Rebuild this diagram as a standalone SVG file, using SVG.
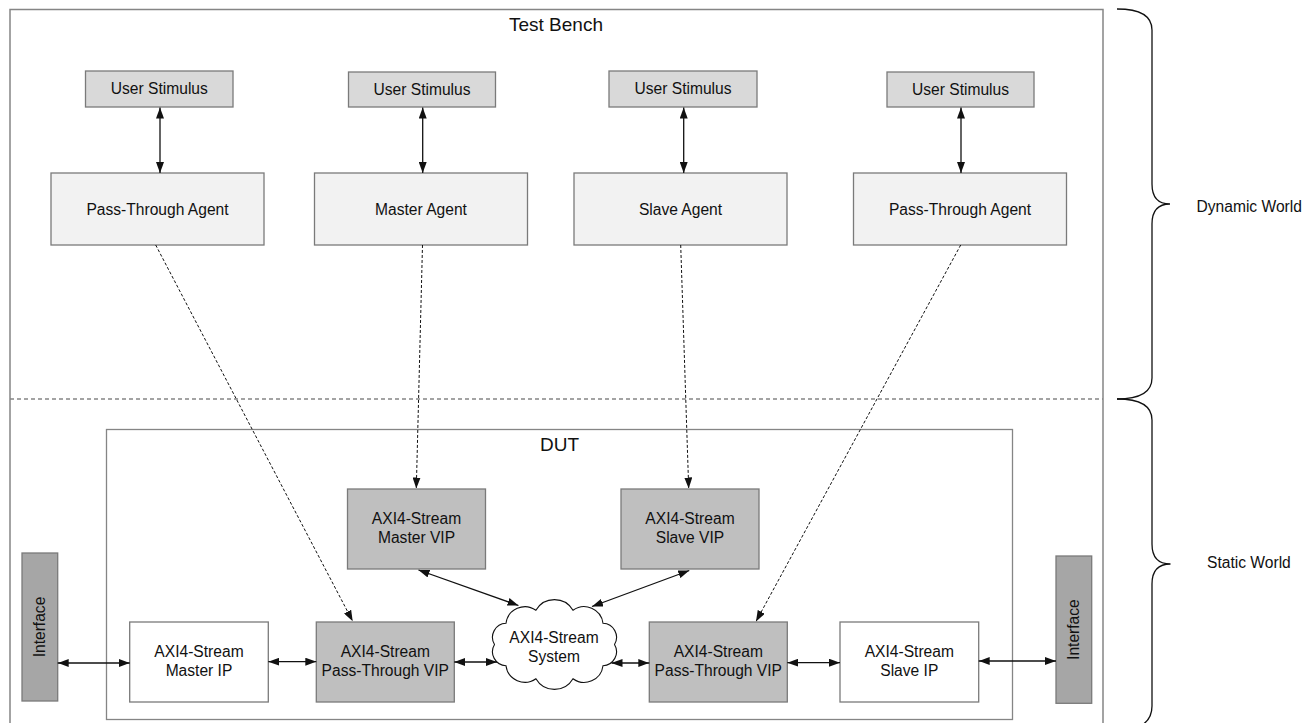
<svg xmlns="http://www.w3.org/2000/svg" width="1312" height="723" viewBox="0 0 1312 723">
<style>
  text { font-family: "Liberation Sans", Arial, sans-serif; fill: #111; }
  .lbl { font-size: 15.6px; text-anchor: middle; }
  .title { font-size: 19px; text-anchor: middle; }
  .side { font-size: 15.6px; }
  .frame { fill: none; stroke: #858585; stroke-width: 1.5; }
  .box { stroke: #7a7a7a; stroke-width: 1.3; }
  .stim { fill: #d9d9d9; }
  .agent { fill: #f2f2f2; }
  .vip { fill: #bfbfbf; }
  .ip { fill: #ffffff; }
  .intf { fill: #a6a6a6; }
  .solid { stroke: #111; stroke-width: 1.3; fill: none; marker-start: url(#ah); marker-end: url(#ah); }
  .dash { stroke: #111; stroke-width: 1; fill: none; stroke-dasharray: 3 2; marker-end: url(#ah); }
  .sep { stroke: #858585; stroke-width: 1.3; stroke-dasharray: 4 3; fill: none; }
  .brace { fill: none; stroke: #111; stroke-width: 1.3; }
</style>
<defs>
  <marker id="ah" viewBox="0 0 11 8" markerWidth="11" markerHeight="8" refX="11" refY="4" orient="auto-start-reverse" markerUnits="userSpaceOnUse">
    <path d="M0,0 L11,4 L0,8 z" fill="#111"/>
  </marker>
</defs>
<rect width="1312" height="723" fill="#ffffff"/>

<g id="test-bench">
  <rect class="frame" x="10" y="9.5" width="1093" height="730"/>
  <text class="title" x="556" y="30.5">Test Bench</text>
</g>
<g id="separator">
  <line class="sep" x1="10" y1="399" x2="1103" y2="399"/>
</g>
<g id="dut">
  <rect class="frame" x="106.5" y="429.5" width="906" height="290" style="stroke-width:1.3"/>
  <text class="title" x="559.5" y="451">DUT</text>
</g>

<g id="stim1"><rect class="box stim" x="85.5" y="71" width="147.5" height="36"/><text class="lbl" x="159.3" y="94">User Stimulus</text></g>
<g id="stim2"><rect class="box stim" x="348.5" y="72" width="147" height="35"/><text class="lbl" x="422" y="95">User Stimulus</text></g>
<g id="stim3"><rect class="box stim" x="609" y="71" width="148" height="36"/><text class="lbl" x="683" y="94">User Stimulus</text></g>
<g id="stim4"><rect class="box stim" x="887" y="72" width="147" height="35"/><text class="lbl" x="960.5" y="95">User Stimulus</text></g>

<g id="agent1"><rect class="box agent" x="51" y="173" width="213" height="72"/><text class="lbl" x="157.5" y="214.5">Pass-Through Agent</text></g>
<g id="agent2"><rect class="box agent" x="314.5" y="173" width="213" height="72"/><text class="lbl" x="421" y="214.5">Master Agent</text></g>
<g id="agent3"><rect class="box agent" x="574" y="173" width="213" height="72"/><text class="lbl" x="680.5" y="214.5">Slave Agent</text></g>
<g id="agent4"><rect class="box agent" x="853.5" y="173" width="213" height="72"/><text class="lbl" x="960" y="214.5">Pass-Through Agent</text></g>

<g id="master-vip"><rect class="box vip" x="347.5" y="489" width="138" height="80"/><text class="lbl" x="416.5" y="524">AXI4-Stream</text><text class="lbl" x="416.5" y="542.7">Master VIP</text></g>
<g id="slave-vip"><rect class="box vip" x="621" y="489" width="138" height="80"/><text class="lbl" x="690" y="524">AXI4-Stream</text><text class="lbl" x="690" y="542.7">Slave VIP</text></g>

<g id="master-ip"><rect class="box ip" x="129.7" y="622" width="138.6" height="80"/><text class="lbl" x="199" y="656.7">AXI4-Stream</text><text class="lbl" x="199" y="675.5">Master IP</text></g>
<g id="pt-vip-left"><rect class="box vip" x="316.3" y="622" width="138" height="80"/><text class="lbl" x="385.3" y="656.7">AXI4-Stream</text><text class="lbl" x="385.3" y="675.5">Pass-Through VIP</text></g>
<g id="pt-vip-right"><rect class="box vip" x="649.3" y="622" width="138" height="80"/><text class="lbl" x="718.3" y="656.7">AXI4-Stream</text><text class="lbl" x="718.3" y="675.5">Pass-Through VIP</text></g>
<g id="slave-ip"><rect class="box ip" x="840" y="622" width="138.7" height="80"/><text class="lbl" x="909.3" y="656.7">AXI4-Stream</text><text class="lbl" x="909.3" y="675.5">Slave IP</text></g>

<g id="cloud">
  <path d="M535.9,610.3 A21.5,21.5 0 0 1 573,610.3 A19,19 0 0 1 603,623.3 A14,14 0 0 1 614.5,644.5 A14,14 0 0 1 603,665.7 A19,19 0 0 1 573,678.7 A21.5,21.5 0 0 1 535.9,678.7 A19,19 0 0 1 506,665.7 A14,14 0 0 1 494.5,644.5 A14,14 0 0 1 506,623.3 A19,19 0 0 1 535.9,610.3 Z" fill="#ffffff" stroke="#111" stroke-width="1.1"/>
  <text class="lbl" x="554" y="642.7">AXI4-Stream</text>
  <text class="lbl" x="554" y="661.7">System</text>
</g>

<g id="intf-left"><rect class="box intf" x="22" y="553" width="35.7" height="148"/><text class="lbl" transform="translate(45.3,627) rotate(-90)">Interface</text></g>
<g id="intf-right"><rect class="box intf" x="1056" y="556" width="35.7" height="147.3"/><text class="lbl" transform="translate(1079.3,629.6) rotate(-90)">Interface</text></g>

<g id="connectors">
  <line class="solid" x1="160" y1="107.5" x2="160" y2="173"/>
  <line class="solid" x1="422.7" y1="107.5" x2="422.7" y2="173"/>
  <line class="solid" x1="683.7" y1="107.5" x2="683.7" y2="173"/>
  <line class="solid" x1="961" y1="107.5" x2="961" y2="173"/>

  <line class="dash" x1="155.7" y1="245" x2="352.7" y2="621.3"/>
  <line class="dash" x1="422.5" y1="245" x2="416.3" y2="488.5"/>
  <line class="dash" x1="680.7" y1="245" x2="688.7" y2="488.5"/>
  <line class="dash" x1="960.7" y1="245" x2="756" y2="621.5"/>

  <line class="solid" x1="418.5" y1="570" x2="518.5" y2="605.5"/>
  <line class="solid" x1="689.3" y1="570.5" x2="592" y2="606.5"/>

  <line class="solid" x1="57.7" y1="663" x2="129.7" y2="663"/>
  <line class="solid" x1="268.3" y1="661.7" x2="316.3" y2="661.7"/>
  <line class="solid" x1="454.3" y1="662" x2="497" y2="662"/>
  <line class="solid" x1="611.5" y1="663" x2="649.3" y2="663"/>
  <line class="solid" x1="787.3" y1="662.7" x2="840" y2="662.7"/>
  <line class="solid" x1="978.7" y1="661" x2="1056" y2="661"/>
</g>

<g id="braces">
  <path class="brace" d="M1117,9 Q1152,9 1152,30 L1152,184 Q1152,204 1170,204 Q1152,204 1152,224 L1152,378 Q1152,399 1117,399"/>
  <path class="brace" d="M1117,399 Q1152,399 1152,420 L1152,544 Q1152,564 1170.5,564 Q1152,564 1152,584 L1152,706 Q1152,722 1136,728"/>
  <text class="side" x="1196.5" y="212">Dynamic World</text>
  <text class="side" x="1207" y="568">Static World</text>
</g>
</svg>
